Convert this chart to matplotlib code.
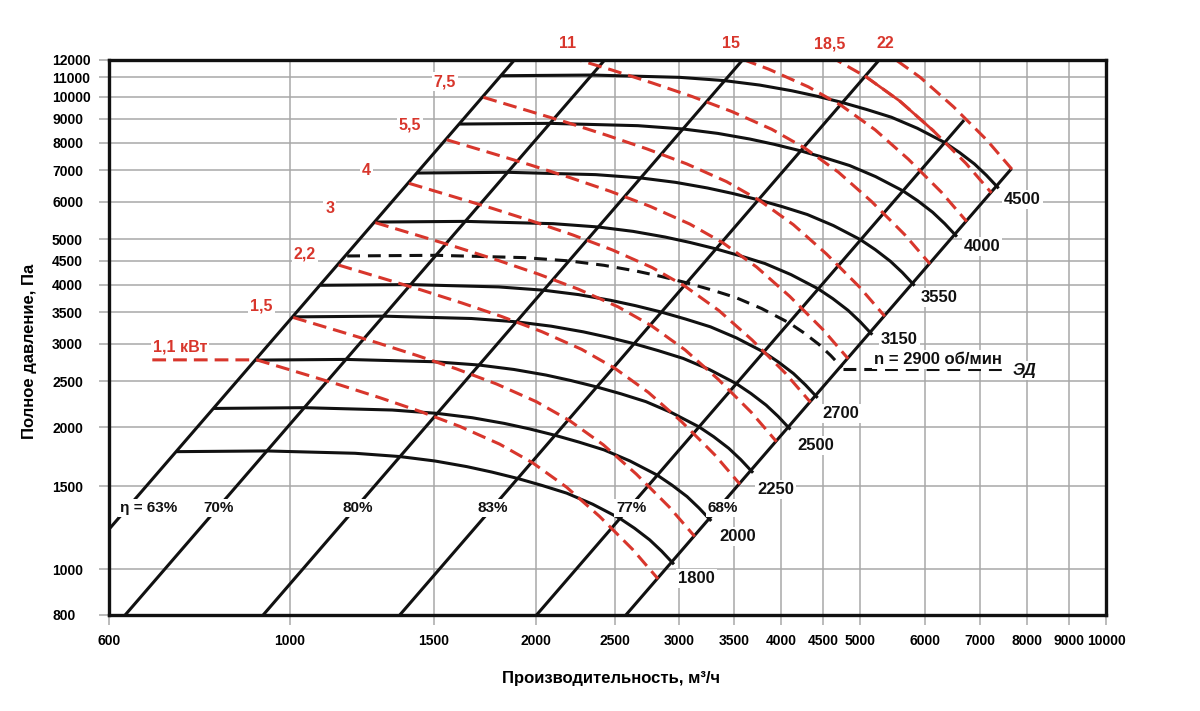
import matplotlib
matplotlib.use("Agg")
import matplotlib.pyplot as plt

plt.rcParams['font.family'] = ['Liberation Sans', 'DejaVu Sans']
plt.rcParams['font.weight'] = 'bold'

# axis ticks
x_ticks = [600, 1000, 1500, 2000, 2500, 3000, 3500, 4000, 4500, 5000,
           6000, 7000, 8000, 9000, 10000]
y_ticks = [800, 1000, 1500, 2000, 2500, 3000, 3500, 4000, 4500, 5000,
           6000, 7000, 8000, 9000, 10000, 11000, 12000]

# fan curves, n in rpm (Q m3/h, P Pa)
n_1800_q = [729, 937, 1201, 1363, 1505, 1647, 1767, 1897, 2035, 2183, 2349, 2535, 2644, 2759, 2854, 2946]
n_1800_p = [1774, 1780, 1760, 1732, 1695, 1649, 1606, 1558, 1505, 1449, 1373, 1282, 1221, 1154, 1092, 1030]
n_2000_q = [810, 1041, 1334, 1514, 1672, 1830, 1963, 2108, 2261, 2426, 2610, 2817, 2938, 3066, 3171, 3273]
n_2000_p = [2190, 2198, 2173, 2138, 2093, 2036, 1983, 1923, 1858, 1789, 1695, 1583, 1507, 1425, 1348, 1272]
n_2250_q = [911, 1171, 1501, 1704, 1881, 2059, 2209, 2371, 2544, 2729, 2936, 3169, 3305, 3449, 3568, 3683]
n_2250_p = [2772, 2781, 2750, 2706, 2648, 2577, 2509, 2434, 2352, 2264, 2145, 2003, 1908, 1803, 1706, 1609]
n_2500_q = [1013, 1301, 1668, 1893, 2090, 2288, 2454, 2635, 2826, 3032, 3263, 3521, 3672, 3832, 3964, 4092]
n_2500_p = [3422, 3434, 3395, 3341, 3270, 3181, 3098, 3005, 2903, 2795, 2649, 2473, 2355, 2226, 2107, 1987]
n_2700_q = [1094, 1406, 1802, 2045, 2258, 2471, 2651, 2846, 3053, 3275, 3524, 3803, 3966, 4139, 4281, 4419]
n_2700_p = [3992, 4005, 3960, 3897, 3814, 3710, 3614, 3506, 3386, 3260, 3089, 2885, 2747, 2597, 2457, 2318]
n_2900_q = [1175, 1510, 1935, 2196, 2425, 2654, 2847, 3056, 3279, 3517, 3784, 4084, 4260, 4445, 4598, 4746]
n_2900_p = [4605, 4620, 4568, 4496, 4400, 4280, 4169, 4044, 3907, 3761, 3564, 3328, 3169, 2995, 2835, 2674]
n_3150_q = [1276, 1640, 2102, 2385, 2634, 2882, 3092, 3320, 3561, 3820, 4111, 4436, 4627, 4828, 4995, 5156]
n_3150_p = [5433, 5451, 5390, 5304, 5191, 5050, 4918, 4771, 4609, 4438, 4205, 3926, 3739, 3534, 3344, 3154]
n_3550_q = [1438, 1848, 2369, 2688, 2968, 3248, 3485, 3741, 4014, 4305, 4633, 5000, 5215, 5441, 5629, 5810]
n_3550_p = [6900, 6924, 6846, 6737, 6593, 6414, 6247, 6060, 5854, 5636, 5341, 4987, 4749, 4489, 4248, 4006]
n_4000_q = [1620, 2082, 2669, 3029, 3344, 3660, 3927, 4216, 4522, 4851, 5220, 5633, 5876, 6131, 6342, 6547]
n_4000_p = [8761, 8790, 8691, 8553, 8370, 8143, 7931, 7694, 7432, 7156, 6780, 6331, 6030, 5699, 5393, 5086]
n_4500_q = [1823, 2343, 3003, 3408, 3763, 4118, 4418, 4743, 5088, 5458, 5873, 6338, 6610, 6898, 7135, 7365]
n_4500_p = [11088, 11125, 11000, 10825, 10594, 10306, 10038, 9738, 9406, 9056, 8581, 8013, 7631, 7213, 6825, 6438]

# motor line (ЭД)
ed_q = [4760, 7550]
ed_p = [2650, 2650]

# efficiency lines
eta_63_q, eta_63_p = [600, 1886], [1215, 12000]
eta_70_q, eta_70_p = [628, 2433], [800, 12000]
eta_80_q, eta_80_p = [927, 3590], [800, 12000]
eta_83_q, eta_83_p = [1363, 5279], [800, 12000]
eta_77_q, eta_77_p = [2005, 6700], [800, 8930]
eta_68_q, eta_68_p = [2580, 7660], [800, 7050]

# power lines, kW
kw_1_1_q = [678, 910, 1029, 1151, 1289, 1443, 1615, 1807, 1983, 2182, 2396, 2630, 2825]
kw_1_1_p = [2775, 2775, 2604, 2456, 2307, 2159, 2006, 1840, 1680, 1492, 1293, 1101, 954]
kw_1_5_q = [1009, 1141, 1276, 1429, 1600, 1791, 2004, 2199, 2420, 2657, 2916, 3133]
kw_1_5_p = [3412, 3202, 3020, 2837, 2655, 2467, 2263, 2066, 1835, 1590, 1354, 1173]
kw_2_2_q = [1147, 1296, 1450, 1624, 1818, 2035, 2277, 2498, 2749, 3019, 3314, 3559]
kw_2_2_p = [4405, 4134, 3899, 3662, 3427, 3184, 2921, 2667, 2368, 2053, 1748, 1514]
kw_3_q = [1272, 1438, 1608, 1801, 2016, 2257, 2525, 2771, 3049, 3348, 3675, 3947]
kw_3_p = [5417, 5084, 4795, 4504, 4215, 3916, 3592, 3280, 2913, 2524, 2149, 1862]
kw_4_q = [1399, 1582, 1770, 1982, 2219, 2483, 2779, 3049, 3355, 3684, 4044, 4344]
kw_4_p = [6562, 6157, 5807, 5455, 5105, 4743, 4351, 3972, 3528, 3057, 2603, 2256]
kw_5_5_q = [1556, 1760, 1968, 2204, 2468, 2762, 3090, 3391, 3731, 4097, 4497, 4831]
kw_5_5_p = [8114, 7614, 7181, 6746, 6313, 5866, 5380, 4912, 4363, 3781, 3219, 2790]
kw_7_5_q = [1726, 1951, 2183, 2444, 2736, 3063, 3427, 3760, 4138, 4544, 4987, 5357]
kw_7_5_p = [9979, 9364, 8832, 8296, 7764, 7214, 6617, 6041, 5365, 4650, 3959, 3431]
kw_11_q = [1961, 2217, 2480, 2777, 3109, 3479, 3893, 4272, 4701, 5162, 5666, 6086]
kw_11_p = [12880, 12087, 11400, 10708, 10021, 9311, 8541, 7798, 6925, 6002, 5110, 4428]
kw_15_q = [2174, 2459, 2750, 3080, 3448, 3859, 4317, 4738, 5213, 5725, 6284, 6750]
kw_15_p = [15841, 14864, 14020, 13169, 12324, 11451, 10503, 9590, 8517, 7381, 6285, 5446]
kw_18_5_q = [2332, 2636, 2949, 3303, 3697, 4138, 4630, 5081, 5591, 6139, 6738, 7238]
kw_18_5_p = [18216, 17094, 16122, 15144, 14173, 13168, 12079, 11028, 9794, 8488, 7227, 6262]
kw_22_q = [2470, 2793, 3124, 3499, 3917, 4384, 4905, 5383, 5923, 6504, 7139, 7668]
kw_22_p = [20447, 19187, 18096, 16998, 15908, 14780, 13557, 12378, 10993, 9527, 8112, 7029]

# labels
kw_labels = ['1,1 кВт', '1,5', '2,2', '3', '4', '5,5', '7,5', '11', '15', '18,5', '22']
kw_label_q = [733, 923, 1043, 1119, 1241, 1403, 1548, 2189, 3470, 4580, 5370]
kw_label_p = [2960, 3600, 4645, 5810, 7000, 8700, 10760, 12950, 12950, 12950, 12950]

eta_labels = ['η = 63%', '70%', '80%', '83%', '77%', '68%']
eta_label_q = [671, 817, 1212, 1774, 2620, 3390]
eta_label_p = [1346, 1346, 1346, 1346, 1346, 1346]

n_labels = ['1800', '2000', '2250', '2500', '2700', '3150', '3550', '4000', '4500']
n_label_q = [3146, 3540, 3940, 4410, 4730, 5580, 6250, 7050, 7900]
n_label_p = [954, 1172, 1477, 1827, 2140, 3070, 3760, 4820, 6050]

RED = '#d8362c'
BLACK = '#111111'
GRID = '#a8a8a8'
LW = 2.2

fig = plt.figure(figsize=(12, 7.11), dpi=100)
ax = fig.add_axes([109 / 1200, 96 / 711, 997 / 1200, 555.5 / 711])
ax.set_xscale('log')
ax.set_yscale('log')
ax.set_xlim(600, 10000)
ax.set_ylim(800, 12000)
ax.set_xticks(x_ticks, [str(v) for v in x_ticks])
ax.set_yticks(y_ticks, [str(v) for v in y_ticks])
ax.minorticks_off()
ax.set_axisbelow(True)
ax.grid(True, color=GRID, lw=1.1)
ax.tick_params(axis='both', length=7.2, width=1.1, color=GRID, labelsize=10)
ax.tick_params(axis='y', pad=33.8)
ax.tick_params(axis='x', pad=6.8)
plt.setp(ax.get_yticklabels(), ha='left')
for sp in ax.spines.values():
    sp.set_linewidth(2.4)
    sp.set_color(BLACK)
    sp.set_zorder(10)

# efficiency lines
for q, p in [(eta_63_q, eta_63_p), (eta_70_q, eta_70_p), (eta_80_q, eta_80_p),
             (eta_83_q, eta_83_p), (eta_77_q, eta_77_p), (eta_68_q, eta_68_p)]:
    ax.plot(q, p, color=BLACK, lw=LW, solid_capstyle='butt', zorder=3)

# fan curves
for q, p in [(n_1800_q, n_1800_p), (n_2000_q, n_2000_p), (n_2250_q, n_2250_p),
             (n_2500_q, n_2500_p), (n_2700_q, n_2700_p), (n_3150_q, n_3150_p),
             (n_3550_q, n_3550_p), (n_4000_q, n_4000_p), (n_4500_q, n_4500_p)]:
    ax.plot(q, p, color=BLACK, lw=LW, solid_joinstyle='round', zorder=3)
ax.plot(n_2900_q, n_2900_p, color=BLACK, lw=LW, dashes=(4.2, 2.6), zorder=3)
ax.plot(ed_q, ed_p, color=BLACK, lw=LW, dashes=(4.2, 2.6), zorder=3)

# power lines
for q, p in [(kw_1_1_q, kw_1_1_p), (kw_1_5_q, kw_1_5_p), (kw_2_2_q, kw_2_2_p),
             (kw_3_q, kw_3_p), (kw_4_q, kw_4_p), (kw_5_5_q, kw_5_5_p),
             (kw_7_5_q, kw_7_5_p), (kw_11_q, kw_11_p), (kw_15_q, kw_15_p),
             (kw_18_5_q, kw_18_5_p), (kw_22_q, kw_22_p)]:
    ax.plot(q, p, color=RED, lw=LW, dashes=(4.5, 2.3), zorder=4)
# the 18,5 kW line is drawn solid over part of its length
ax.plot(kw_18_5_q[7:10], kw_18_5_p[7:10], color=RED, lw=LW * 0.9, zorder=4)

box = dict(boxstyle='square,pad=0.12', fc='white', ec='none')
for t, q, p in zip(kw_labels, kw_label_q, kw_label_p):
    ax.text(q, p, t, color=RED, fontsize=11.5, ha='center', va='center',
            bbox=box, zorder=6, clip_on=False)
for t, q, p in zip(eta_labels, eta_label_q, eta_label_p):
    ax.text(q, p, t, color=BLACK, fontsize=11, ha='center', va='center',
            bbox=box, zorder=6)
for t, q, p in zip(n_labels, n_label_q, n_label_p):
    ax.text(q, p, t, color=BLACK, fontsize=12, ha='center', va='center',
            bbox=box, zorder=6)
ax.text(6220, 2785, 'n = 2900 об/мин', color=BLACK, fontsize=12, ha='center',
        va='center', bbox=box, zorder=6)
ax.text(7940, 2640, 'ЭД', color=BLACK, fontsize=12, style='italic',
        ha='center', va='center', bbox=box, zorder=6)

fig.text(611 / 1200, 1 - 678 / 711, 'Производительность, м³/ч',
         fontsize=12, ha='center', va='center')
fig.text(30 / 1200, 1 - 351 / 711, 'Полное давление, Па', fontsize=12,
         rotation=90, ha='center', va='center')

fig.savefig('out.png', dpi=100, facecolor='white')
